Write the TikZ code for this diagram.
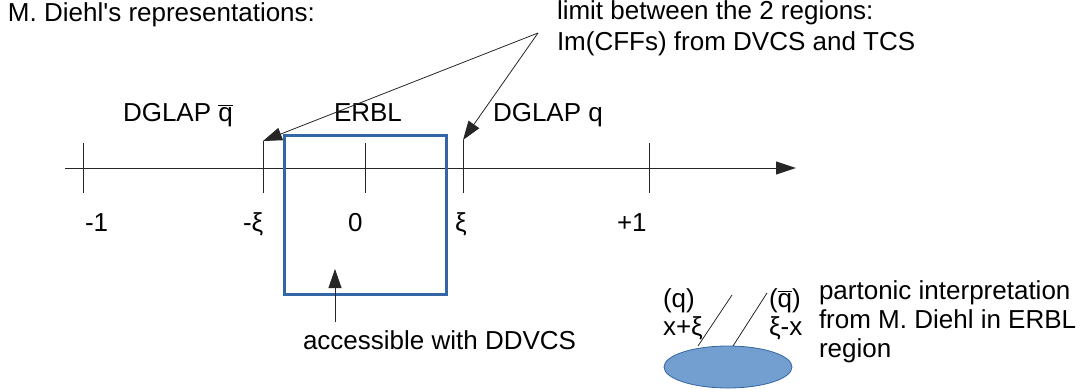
\documentclass[tikz,border=0pt]{standalone}
\usepackage{fontspec}
\setmainfont{Liberation Sans}
\usetikzlibrary{arrows.meta,shapes.geometric}
\definecolor{boxblue}{HTML}{3465A4}
\definecolor{blobfill}{HTML}{729FCF}
\newcommand{\qb}{\ensuremath{\overline{\hbox{q}}}}
\begin{document}
\begin{tikzpicture}[x=1pt,y=-1pt,
  lbl/.style={inner sep=0pt,outer sep=0pt,anchor=base west,font=\fontsize{26}{30}\selectfont},
  tickline/.style={line width=1pt,draw=black!85},
  callout/.style={line width=0.8pt,draw=black!85,-{Triangle[length=19pt,width=13pt]}},
  axisline/.style={line width=1pt,draw=black!85,-{Triangle[length=20pt,width=13pt]}}]
\useasboundingbox (0,0) rectangle (1089,391);

% title and callout text
\node[lbl] (title) at (8,21) {M. Diehl\textquotesingle s representations:};
\node[lbl] (lim1) at (557,19) {limit between the 2 regions:};
\node[lbl] (lim2) at (557,50) {Im(CFFs) from DVCS and TCS};

% region labels
\node[lbl] (dqb) at (123,121) {DGLAP \qb};
\node[lbl] (erbl) at (334,121) {ERBL};
\node[lbl] (dq) at (493,121) {DGLAP q};

% axis
\coordinate (a0) at (65,168);
\coordinate (a1) at (796,168);
\draw[axisline] (a0) -- (a1);

% ticks
\coordinate (m1t) at (83,143);  \coordinate (m1b) at (83,193);
\coordinate (mxt) at (263,141); \coordinate (mxb) at (263,193);
\coordinate (zt)  at (365,143); \coordinate (zb)  at (365,193);
\coordinate (xt)  at (463,140); \coordinate (xb)  at (463,193);
\coordinate (p1t) at (649,143); \coordinate (p1b) at (649,193);
\draw[tickline] (m1t) -- (m1b);
\draw[tickline] (mxt) -- (mxb);
\draw[tickline] (zt) -- (zb);
\draw[tickline] (xt) -- (xb);
\draw[tickline] (p1t) -- (p1b);

% tick labels
\node[lbl] (lm1) at (85,231) {-1};
\node[lbl] (lmx) at (243,231) {-ξ};
\node[lbl] (lz)  at (348,231) {0};
\node[lbl] (lx)  at (455,231) {ξ};
\node[lbl] (lp1) at (617,231) {+1};

% ERBL box
\node[draw=boxblue,line width=3pt,minimum width=162pt,minimum height=159pt,inner sep=0pt,outer sep=0pt] (box) at (365,214.5) {};

% callout arrows
\coordinate (apex) at (538,33);
\draw[callout] (apex) -- (mxt);
\draw[callout] (apex) -- (xt);

% accessible
\node[lbl] (acc) at (303,349) {accessible with DDVCS};
\coordinate (accb) at (335,322);
\coordinate (acct) at (335,269);
\draw[callout] (accb) -- (acct);

% partonic picture
\node[ellipse,draw=boxblue,line width=0.8pt,fill=blobfill,minimum width=128pt,minimum height=42pt,inner sep=0pt] (blob) at (728,367) {};
\coordinate (l1a) at (698,346); \coordinate (l1b) at (732,295);
\coordinate (l2a) at (733,346); \coordinate (l2b) at (767,293);
\draw[line width=0.8pt,draw=black!85] (l1a) -- (l1b);
\draw[line width=0.8pt,draw=black!85] (l2a) -- (l2b);
\node[lbl] (q) at (663,307) {(q)};
\node[lbl] (xpx) at (663,335) {x+ξ};
\node[lbl] (qbar) at (769,307) {(\qb)};
\node[lbl] (xmx) at (769,335) {ξ-x};
\node[lbl] (p1) at (819,299) {partonic interpretation};
\node[lbl] (p2) at (819,328) {from M. Diehl in ERBL};
\node[lbl] (p3) at (819,357) {region};
\end{tikzpicture}
\end{document}
